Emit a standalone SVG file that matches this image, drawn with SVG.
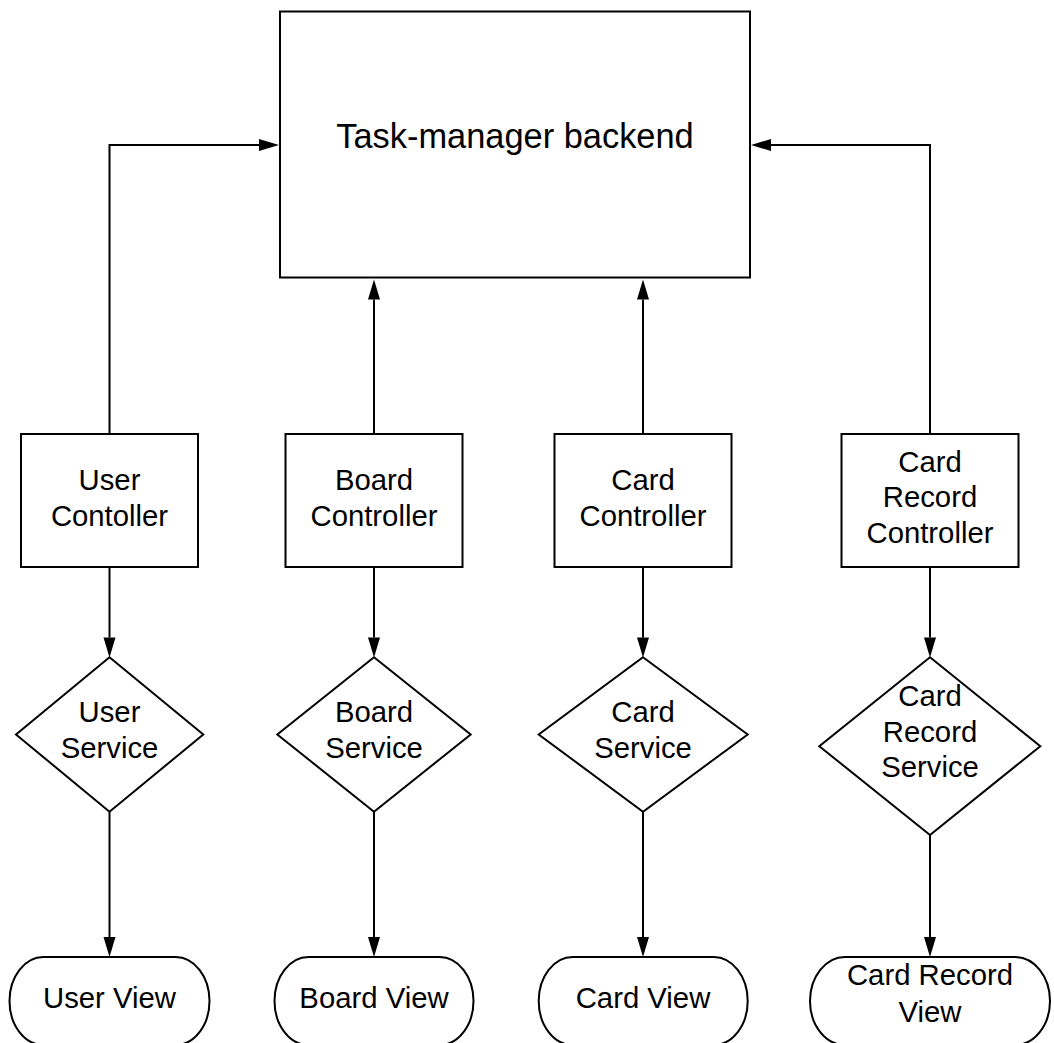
<svg xmlns="http://www.w3.org/2000/svg" width="1054" height="1043" viewBox="0 0 1054 1043">
  <style>
    .shape { fill: #ffffff; stroke: #000000; stroke-width: 2; }
    .link { fill: none; stroke: #000000; stroke-width: 2; }
    .label { font-family: "Liberation Sans", Arial, sans-serif; font-size: 29.3px; fill: #000000; text-anchor: middle; }
    .title { font-size: 34.4px; }
  </style>
  <defs>
    <marker id="arrow" markerUnits="userSpaceOnUse" markerWidth="20" markerHeight="12" refX="0" refY="6" orient="auto" overflow="visible">
      <path d="M0,0 L20,6 L0,12 z" fill="#000000"/>
    </marker>
  </defs>

  <rect width="1054" height="1043" fill="#ffffff"/>

  <!-- connectors -->
  <g id="connectors">
    <path class="link" d="M109.5 434 V145 H259" marker-end="url(#arrow)"/>
    <path class="link" d="M374 434 V299.5" marker-end="url(#arrow)"/>
    <path class="link" d="M643 434 V299.5" marker-end="url(#arrow)"/>
    <path class="link" d="M930 434 V145 H771" marker-end="url(#arrow)"/>

    <path class="link" d="M109.5 567 V637.5" marker-end="url(#arrow)"/>
    <path class="link" d="M374 567 V637.5" marker-end="url(#arrow)"/>
    <path class="link" d="M643 567 V637.5" marker-end="url(#arrow)"/>
    <path class="link" d="M930 567 V637.5" marker-end="url(#arrow)"/>

    <path class="link" d="M109.5 811.7 V937" marker-end="url(#arrow)"/>
    <path class="link" d="M374 811.7 V937" marker-end="url(#arrow)"/>
    <path class="link" d="M643 811.7 V937" marker-end="url(#arrow)"/>
    <path class="link" d="M930 835 V937" marker-end="url(#arrow)"/>
  </g>

  <!-- backend -->
  <g id="backend">
    <rect class="shape" x="280" y="11.5" width="470" height="266"/>
    <text class="label title" x="515" y="148.3">Task-manager backend</text>
  </g>

  <!-- controllers -->
  <g id="user-controller">
    <rect class="shape" x="21" y="434" width="177" height="133"/>
    <text class="label" x="109.5" y="490">User</text>
    <text class="label" x="109.5" y="526">Contoller</text>
  </g>
  <g id="board-controller">
    <rect class="shape" x="285.5" y="434" width="177" height="133"/>
    <text class="label" x="374" y="490">Board</text>
    <text class="label" x="374" y="526">Controller</text>
  </g>
  <g id="card-controller">
    <rect class="shape" x="554.5" y="434" width="177" height="133"/>
    <text class="label" x="643" y="490">Card</text>
    <text class="label" x="643" y="526">Controller</text>
  </g>
  <g id="card-record-controller">
    <rect class="shape" x="841.5" y="434" width="177" height="133"/>
    <text class="label" x="930" y="471.7">Card</text>
    <text class="label" x="930" y="507.3">Record</text>
    <text class="label" x="930" y="542.7">Controller</text>
  </g>

  <!-- services -->
  <g id="user-service">
    <polygon class="shape" points="109.5,657.3 203.3,734.5 109.5,811.7 16,734.5"/>
    <text class="label" x="109.5" y="721.7">User</text>
    <text class="label" x="109.5" y="757.7">Service</text>
  </g>
  <g id="board-service">
    <polygon class="shape" points="374,657.3 470.7,734.5 374,811.7 277.3,734.5"/>
    <text class="label" x="374" y="721.7">Board</text>
    <text class="label" x="374" y="757.7">Service</text>
  </g>
  <g id="card-service">
    <polygon class="shape" points="643,657.3 747.7,734.5 643,811.7 538.7,734.5"/>
    <text class="label" x="643" y="721.7">Card</text>
    <text class="label" x="643" y="757.7">Service</text>
  </g>
  <g id="card-record-service">
    <polygon class="shape" points="930,657.3 1040.3,746.2 930,835 819.3,746.2"/>
    <text class="label" x="930" y="706">Card</text>
    <text class="label" x="930" y="741.7">Record</text>
    <text class="label" x="930" y="776.7">Service</text>
  </g>

  <!-- views -->
  <g id="user-view">
    <rect class="shape" x="9.5" y="957" width="200" height="88" rx="34" ry="44"/>
    <text class="label" x="109.5" y="1008.3">User View</text>
  </g>
  <g id="board-view">
    <rect class="shape" x="274.5" y="957" width="199" height="88" rx="34" ry="44"/>
    <text class="label" x="374" y="1008.3">Board View</text>
  </g>
  <g id="card-view">
    <rect class="shape" x="538.7" y="957" width="209" height="88" rx="34" ry="44"/>
    <text class="label" x="643" y="1008.3">Card View</text>
  </g>
  <g id="card-record-view">
    <rect class="shape" x="810" y="957" width="240" height="88" rx="35" ry="44"/>
    <text class="label" x="930" y="985">Card Record</text>
    <text class="label" x="930" y="1021.7">View</text>
  </g>
</svg>
